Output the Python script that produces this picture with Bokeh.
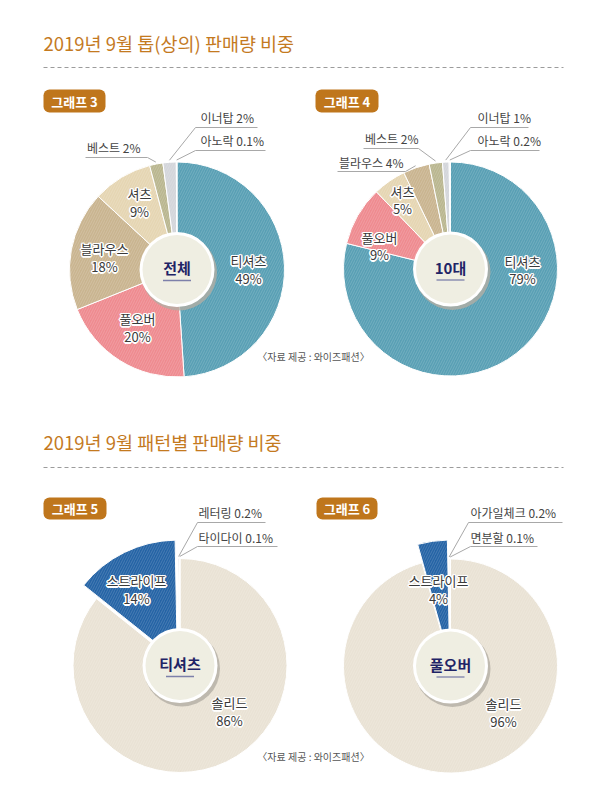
import numpy as np
from bokeh.plotting import figure
from bokeh.models import Range1d, ColumnDataSource
from bokeh.core.properties import value
from bokeh.embed import file_html
from bokeh.resources import INLINE

FONT = value("Noto Sans CJK KR")

# ---------------- data ----------------
title_top = "2019년 9월 톱(상의) 판매량 비중"
title_bottom = "2019년 9월 패턴별 판매량 비중"
source_note = "〈자료 제공 : 와이즈패션〉"
badges = ["그래프 3", "그래프 4", "그래프 5", "그래프 6"]
center_labels = ["전체", "10대", "티셔츠", "풀오버"]

g3_cats = ["티셔츠", "풀오버", "블라우스", "셔츠", "베스트", "이너탑", "아노락"]
g3_vals = [49, 20, 18, 9, 2, 2, 0.1]

g4_cats = ["티셔츠", "풀오버", "셔츠", "블라우스", "베스트", "이너탑", "아노락"]
g4_vals = [79, 9, 5, 4, 2, 1, 0.2]

g5_cats = ["솔리드", "스트라이프", "레터링", "타이다이"]
g5_vals = [86, 14, 0.2, 0.1]

g6_cats = ["솔리드", "스트라이프", "아가일체크", "면분할"]
g6_vals = [96, 4, 0.2, 0.1]

# ---------------- styles ----------------
CAT_COLORS = {
    "티셔츠": "#589FB4", "풀오버": "#EE8A8F", "블라우스": "#C9B48F",
    "셔츠": "#E5D5B2", "베스트": "#B9B68F", "이너탑": "#D3D5DA", "아노락": "#E9E9EB",
    "솔리드": "#E9E2D4", "스트라이프": "#2463A5", "레터링": "#D9D9DC",
    "타이다이": "#E6E6E8", "아가일체크": "#D9D9DC", "면분할": "#E6E6E8",
}
ORANGE = "#C47A1F"
BADGE = "#BF761C"
NAVY = "#1F2466"


def Y(py):
    return 790 - py


p = figure(width=584, height=774, x_range=Range1d(0, 584), y_range=Range1d(16, 790),
           output_backend="svg", toolbar_location=None, min_border=0,
           x_axis_type=None, y_axis_type=None)
p.grid.visible = False
p.outline_line_color = None
p.background_fill_color = "white"
p.border_fill_color = "white"


def txt(x, y, s, size="12px", color="#444444", align="left", weight="normal", baseline="middle"):
    p.text(x=[x], y=[Y(y)], text=[s], text_font=FONT, text_font_size=size,
           text_color=color, text_align=align, text_baseline=baseline, text_font_style=weight)


def halo(x, y, s, size="13px", color="#3A3A3A"):
    for dx, dy in [(-1, 0), (1, 0), (0, -1), (0, 1), (-1, -1), (1, 1), (-1, 1), (1, -1),
                   (-1.5, 0), (1.5, 0), (0, 1.5), (0, -1.5)]:
        p.text(x=[x], y=[Y(y)], text=[s], x_offset=dx, y_offset=dy, text_font=FONT,
               text_font_size=size, text_color="white", text_align="center",
               text_baseline="middle")
    p.text(x=[x], y=[Y(y)], text=[s], text_font=FONT, text_font_size=size,
           text_color=color, text_align="center", text_baseline="middle")


def fmt(v):
    return f"{int(v)}%" if float(v).is_integer() else f"{v}%"


def section(title, ty, dash_y):
    txt(43, ty, title, size="18.5px", color=ORANGE)
    p.line([43, 563], [Y(dash_y), Y(dash_y)], line_dash="4 3", line_color="#9C9C9C", line_width=1.2)


def badge(label, x0, x1, y0, y1):
    p.quad(left=[x0], right=[x1], top=[Y(y0)], bottom=[Y(y1)], fill_color=BADGE,
           line_color=None, border_radius=6)
    txt((x0 + x1) / 2, (y0 + y1) / 2, label, size="13px", color="white", align="center", weight="bold")


def pie(cx, cy, r, cats, vals, explode=None):
    tot = float(sum(vals))
    fr = np.cumsum([0.0] + list(vals)) / tot
    starts = np.pi / 2 - fr[:-1] * 2 * np.pi
    ends = np.pi / 2 - fr[1:] * 2 * np.pi
    mids = (starts + ends) / 2
    xs, ys, rs = [], [], []
    for i, c in enumerate(cats):
        off = 6 if c == explode else 0
        xs.append(cx + off * np.cos(mids[i]))
        ys.append(Y(cy) + off * np.sin(mids[i]))
        rs.append(120 if c == explode else r)
    src = ColumnDataSource(dict(x=xs, y=ys, r=rs, s=starts, e=ends,
                                c=[CAT_COLORS[k] for k in cats]))
    p.wedge(x="x", y="y", radius="r", start_angle="s", end_angle="e", direction="clock",
            fill_color="c", line_color="white", line_width=1, source=src,
            hatch_pattern="/", hatch_color="white", hatch_alpha=0.16,
            hatch_scale=5, hatch_weight=1)
    anchors = {}
    for i, c in enumerate(cats):
        anchors[c] = (cx + (r + 2) * np.cos(mids[i]), cy - (r + 2) * np.sin(mids[i]))
    return anchors


def hole(cx, cy, label):
    p.circle(x=[cx + 2], y=[Y(cy) - 3], radius=38, fill_color="#B3AEA4", fill_alpha=0.8, line_color=None)
    p.circle(x=[cx], y=[Y(cy)], radius=37.5, fill_color="white", line_color=None)
    p.circle(x=[cx], y=[Y(cy)], radius=34.5, fill_color="#EFEEE2", line_color=None)
    txt(cx, cy - 2, label, size="15px", color=NAVY, align="center", weight="bold")
    p.line([cx - 14, cx + 14], [Y(cy + 11), Y(cy + 11)], line_color="#7D80AA", line_width=1.3)


def callout(s, tx, ty, ux0, ux1, uy, start_x, anchor, align="left"):
    txt(tx, ty, s, size="12px", color="#444444", align=align)
    p.line([ux0, ux1], [Y(uy), Y(uy)], line_color="#A8A8A8", line_width=1)
    p.line([start_x, anchor[0]], [Y(uy), Y(anchor[1])], line_color="#A8A8A8", line_width=1)


# ---------------- top section ----------------
section(title_top, 42, 67)
badge(badges[0], 43, 105, 89, 112)
badge(badges[1], 315, 378, 89, 112)

a3 = pie(176.5, 269, 107.5, g3_cats, g3_vals)
v3 = dict(zip(g3_cats, g3_vals))
for cat, (lx, ly) in {"티셔츠": (248, 260), "풀오버": (137, 318),
                      "블라우스": (104, 248), "셔츠": (139, 193)}.items():
    halo(lx, ly, cat)
    halo(lx, ly + 18, fmt(v3[cat]))
hole(176.5, 269, center_labels[0])
callout(f"이너탑 {fmt(v3['이너탑'])}", 200, 117, 195, 257, 127, 195, a3["이너탑"])
callout(f"아노락 {fmt(v3['아노락'])}", 200, 140, 195, 265, 150, 195, a3["아노락"])
callout(f"베스트 {fmt(v3['베스트'])}", 140, 147, 85, 147, 157, 147, a3["베스트"], align="right")

a4 = pie(450, 268.5, 107, g4_cats, g4_vals)
v4 = dict(zip(g4_cats, g4_vals))
for cat, (lx, ly) in {"티셔츠": (522, 261), "풀오버": (379, 237), "셔츠": (402, 191)}.items():
    halo(lx, ly, cat)
    halo(lx, ly + 17, fmt(v4[cat]))
hole(450, 268.5, center_labels[1])
callout(f"이너탑 {fmt(v4['이너탑'])}", 477, 117, 470, 528, 127, 470, a4["이너탑"])
callout(f"아노락 {fmt(v4['아노락'])}", 477, 140, 470, 539, 150, 470, a4["아노락"])
callout(f"베스트 {fmt(v4['베스트'])}", 418, 138, 363, 418, 148, 418, a4["베스트"], align="right")
callout(f"블라우스 {fmt(v4['블라우스'])}", 403, 162, 337, 405, 171, 405, a4["블라우스"], align="right")

txt(313, 356, source_note, size="10px", color="#555555", align="center")

# ---------------- bottom section ----------------
section(title_bottom, 441, 467)
badge(badges[2], 43, 106, 497, 519)
badge(badges[3], 316, 377, 497, 519)

a5 = pie(179.5, 665, 107, g5_cats, g5_vals, explode="스트라이프")
v5 = dict(zip(g5_cats, g5_vals))
for cat, (lx, ly) in {"스트라이프": (136, 580), "솔리드": (229, 702)}.items():
    halo(lx, ly, cat)
    halo(lx, ly + 18, fmt(v5[cat]))
hole(179.5, 665, center_labels[2])
callout(f"레터링 {fmt(v5['레터링'])}", 198, 512, 197, 265, 522, 197, a5["레터링"])
callout(f"타이다이 {fmt(v5['타이다이'])}", 198, 537, 197, 277, 546, 197, a5["타이다이"])

a6 = pie(450, 665.5, 107, g6_cats, g6_vals, explode="스트라이프")
v6 = dict(zip(g6_cats, g6_vals))
for cat, (lx, ly) in {"스트라이프": (438, 580), "솔리드": (503, 703)}.items():
    halo(lx, ly, cat)
    halo(lx, ly + 18, fmt(v6[cat]))
hole(450, 665.5, center_labels[3])
callout(f"아가일체크 {fmt(v6['아가일체크'])}", 470, 512, 468, 562, 522, 468, a6["아가일체크"])
callout(f"면분할 {fmt(v6['면분할'])}", 470, 537, 470, 537, 546, 470, a6["면분할"])

txt(313, 756, source_note, size="10px", color="#555555", align="center")

open("out.html", "w").write(file_html(p, INLINE))
